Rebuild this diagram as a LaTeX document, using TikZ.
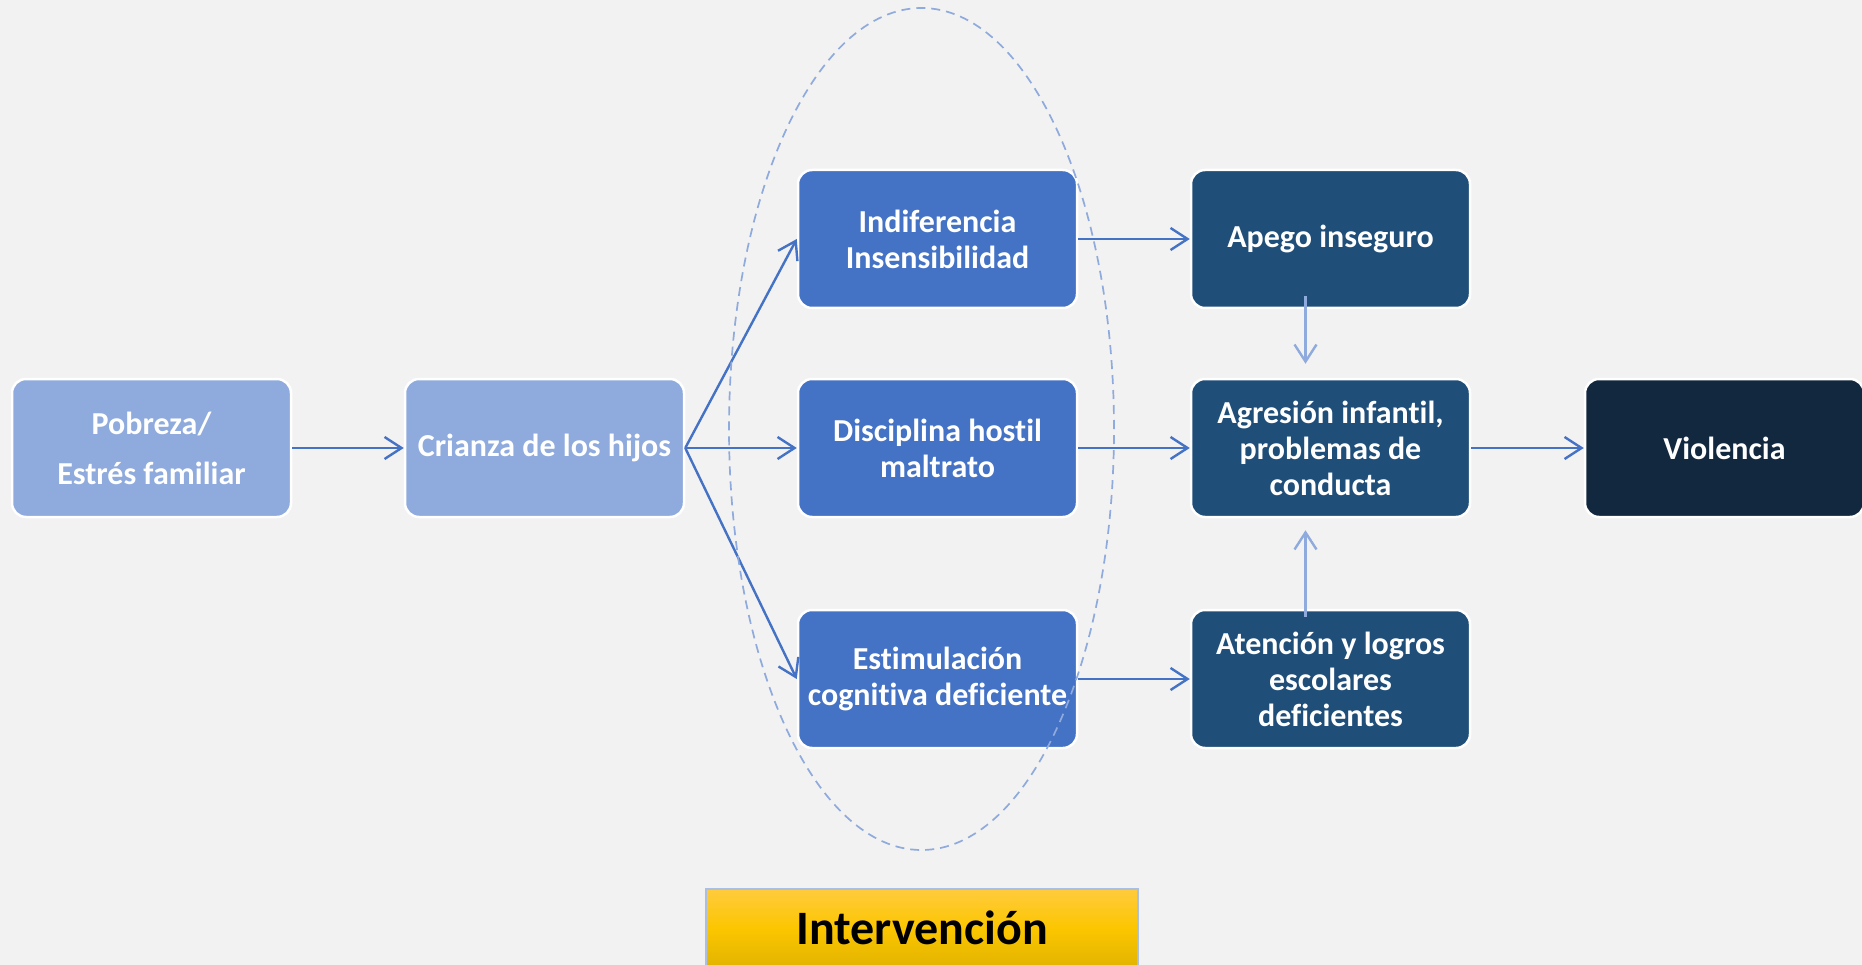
\documentclass[tikz,border=0pt]{standalone}
\usepackage{fontspec}
\setmainfont{Carlito}[Ligatures=NoCommon]
\usetikzlibrary{arrows.meta,shapes.geometric}
\definecolor{bg}{HTML}{F2F2F2}
\definecolor{light}{HTML}{8FAADC}
\definecolor{mid}{HTML}{4472C4}
\definecolor{dark}{HTML}{1F4E79}
\definecolor{darkest}{HTML}{12283F}
\definecolor{ycol1}{HTML}{FFCB3D}
\definecolor{ycol2}{HTML}{FCC600}
\definecolor{ycol3}{HTML}{E2B400}
\definecolor{yborder}{HTML}{A9BFE3}
\tikzset{
  box/.style={draw=white, line width=2.5pt, rounded corners=14pt,
    minimum width=279pt, minimum height=138pt, inner sep=2pt,
    text=white, align=center, font=\bfseries\fontsize{32}{36}\selectfont},
  lbox/.style={box, fill=light},
  mbox/.style={box, fill=mid},
  dbox/.style={box, fill=dark},
  xbox/.style={box, fill=darkest},
  arr/.style={draw=mid, line width=2.4pt, -{Straight Barb[length=17pt,width=22pt,line width=2.4pt]}},
  larr/.style={draw=light, line width=2.4pt, -{Straight Barb[length=17pt,width=22pt,line width=2.4pt]}},
  ell/.style={draw=light, line width=1.7pt, dash pattern=on 9pt off 6pt},
}
\begin{document}
\begin{tikzpicture}[x=1pt,y=-1pt]
\useasboundingbox (0,0) rectangle (1862,965);
\fill[bg] (0,0) rectangle (1862,965);

\node[lbox] (pob) at (151.5,448) {Pobreza/\\[14pt]Estrés familiar};
\node[lbox] (cri) at (544.5,448) {Crianza de los hijos};
\node[mbox] (ind) at (937.5,239) {Indiferencia\\Insensibilidad};
\node[mbox] (dis) at (937.5,448) {Disciplina hostil\\maltrato};
\node[mbox] (est) at (937.5,679) {Estimulación\\cognitiva deficiente};
\node[dbox] (ape) at (1330.5,239) {Apego inseguro};
\node[dbox] (agr) at (1330.5,448) {Agresión infantil,\\problemas de\\conducta};
\node[dbox] (ate) at (1330.5,679) {Atención y logros\\escolares\\deficientes};
\node[xbox] (vio) at (1724.5,448) {Violencia};

\draw[arr] (pob.east) -- (cri.west);
\draw[arr] (cri.east) -- (ind.west);
\draw[arr] (cri.east) -- (dis.west);
\draw[arr] (cri.east) -- (est.west);
\draw[arr] (ind.east) -- (ape.west);
\draw[arr] (dis.east) -- (agr.west);
\draw[arr] (est.east) -- (ate.west);
\draw[arr] (agr.east) -- (vio.west);
\draw[larr, shorten <=-13pt, shorten >=14pt] ([xshift=-25pt]ape.south) -- ([xshift=-25pt]agr.north);
\draw[larr, shorten <=-8pt, shorten >=12pt] ([xshift=-25pt]ate.north) -- ([xshift=-25pt]agr.south);

\node[ell, ellipse, minimum width=385pt, minimum height=842pt, inner sep=0pt] (oval) at (921.5,429) {};

\node[draw=yborder, line width=1.5pt, top color=ycol1, bottom color=ycol3, middle color=ycol2,
  minimum width=432pt, minimum height=78pt, inner sep=0pt,
  font=\bfseries\fontsize{48}{52}\selectfont, text=black] (int) at (922,928) {Intervención};
\end{tikzpicture}
\end{document}
